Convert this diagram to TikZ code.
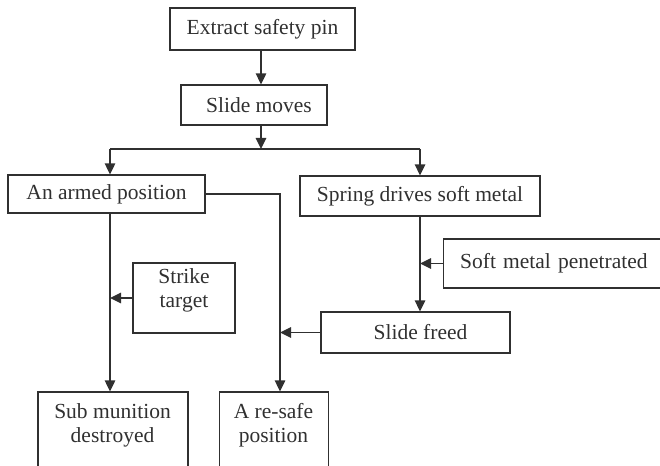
\documentclass[tikz,border=0pt]{standalone}
\usepackage{fontspec}
\setmainfont{Liberation Serif}
\usetikzlibrary{arrows.meta}
\definecolor{ink}{HTML}{303030}
\begin{document}
\begin{tikzpicture}[x=1pt,y=-1pt,
  box/.style={draw=ink,line width=1.3pt,inner sep=0pt,text=ink,font=\fontsize{21.5}{24}\selectfont},
  txt/.style={inner sep=0pt,text=ink,font=\fontsize{21.5}{24}\selectfont,align=center},
  arr/.style={draw=ink,line width=1.4pt,-{Triangle[length=11pt,width=10.5pt]}},
  ln/.style={draw=ink,line width=1.4pt}]
\useasboundingbox (0,0) rectangle (660,465);
\clip (0,0) rectangle (660,465);
\node[box,minimum width=185,minimum height=42] (pin) at (262.5,29) {Extract safety pin};
\node[box,minimum width=146,minimum height=40] (slide) at (254,105) {\hspace{10pt}Slide moves};
\node[box,minimum width=197,minimum height=38] (armed) at (106.5,194) {An armed position};
\node[box,minimum width=240,minimum height=40] (spring) at (420,196) {Spring drives soft metal};
\node[box,anchor=west,minimum height=49,text width=200,align=left,inner xsep=16.5pt] (soft) at (443,263.5) {Soft metal penetrated};
\node[box,minimum width=189,minimum height=41] (freed) at (415.5,332.5) {\hspace{10pt}Slide freed};
\node[box,minimum width=102,minimum height=70] (strike) at (184,298) {};
\node[txt] (striket) at (184,290) {Strike\\target};
\node[box,minimum width=150,minimum height=120] (sub) at (113,452) {};
\node[txt] (subt) at (112.5,425) {Sub munition\\destroyed};
\node[box,minimum width=109,minimum height=120] (resafe) at (273.7,452) {};
\node[txt] (resafet) at (273.5,425) {A re-safe\\position};
\coordinate (c1) at (261,0);
\coordinate (j) at (261,149);
\coordinate (jl) at (110,149);
\coordinate (jr) at (420,149);
\coordinate (k) at (280,0);
\draw[arr] (pin.south -| c1) -- (slide.north -| c1);
\draw[arr] (slide.south -| j) -- (j);
\draw[ln] (jl) -- (jr);
\draw[arr] (jl) -- (armed.north -| jl);
\draw[arr] (jr) -- (spring.north -| jr);
\draw[arr] (armed.east) -| (k |- resafe.north);
\draw[arr] (armed.south -| jl) -- (sub.north -| jl);
\draw[arr] (spring.south -| jr) -- (freed.north -| jr);
\draw[arr] (soft.west) -- (soft.west -| jr);
\draw[arr] (freed.west) -- (freed.west -| k);
\draw[arr] (strike.west) -- (strike.west -| jl);
\end{tikzpicture}
\end{document}
